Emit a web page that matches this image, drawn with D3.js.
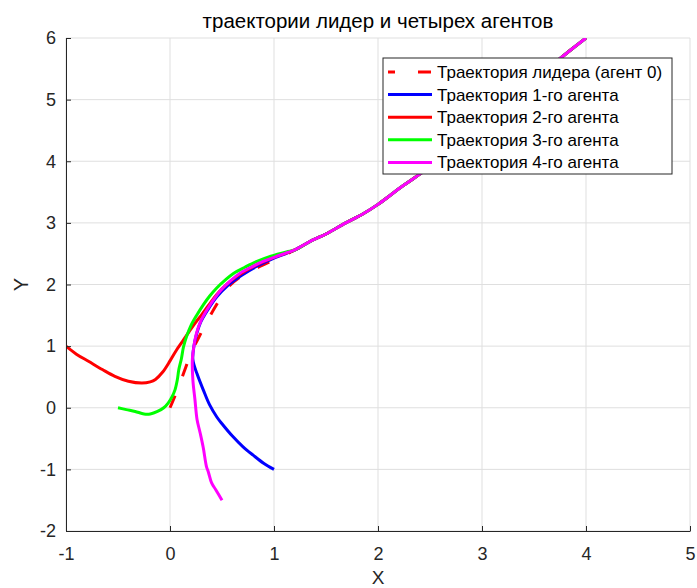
<!DOCTYPE html>
<html>
<head>
<meta charset="utf-8">
<script src="https://cdn.jsdelivr.net/npm/d3@7"></script>
<style>
body { margin:0; background:#fff; }
text { font-family: "Liberation Sans", Arial, sans-serif; }
</style>
</head>
<body>
<div id="chart"></div>
<script>
/* data */
var xTicks = [-1, 0, 1, 2, 3, 4, 5];
var yTicks = [-2, -1, 0, 1, 2, 3, 4, 5, 6];
var labels = ["Траектория лидера (агент 0)", "Траектория 1-го агента", "Траектория 2-го агента", "Траектория 3-го агента", "Траектория 4-го агента"];
var colors = ["#ff0000", "#0000ff", "#ff0000", "#00ff00", "#ff00ff"];

// common part where everybody follows the leader
var tailX = [1.2, 1.37, 1.5, 1.69, 1.85, 2.0, 2.23, 2.46, 2.75, 3.0, 3.25, 3.5, 3.76, 4.0];
var tailY = [2.56, 2.72, 2.82, 3.0, 3.14, 3.3, 3.59, 3.86, 4.23, 4.58, 4.94, 5.3, 5.68, 6.0];

var leaderX = [0, 0.05, 0.1, 0.15, 0.2, 0.27, 0.35, 0.44, 0.55, 0.7, 0.85, 1.0];
var leaderY = [0, 0.2, 0.42, 0.65, 0.88, 1.12, 1.38, 1.65, 1.94, 2.15, 2.28, 2.4];

var agent1X = [1.0, 0.9, 0.8, 0.7, 0.6, 0.5, 0.45, 0.38, 0.32, 0.26, 0.22, 0.23, 0.25, 0.29, 0.36, 0.45, 0.56, 0.69, 0.84, 1.0];
var agent1Y = [-1.0, -0.9, -0.77, -0.63, -0.46, -0.26, -0.15, 0.05, 0.29, 0.55, 0.78, 1.0, 1.16, 1.37, 1.58, 1.8, 1.99, 2.15, 2.3, 2.43];

var agent2X = [-1.0, -0.9, -0.78, -0.65, -0.53, -0.4, -0.27, -0.19, -0.14, -0.07, 0.0, 0.06, 0.13, 0.19, 0.24, 0.3, 0.37, 0.45, 0.55, 0.65, 0.8, 1.0];
var agent2Y = [1.0, 0.87, 0.75, 0.62, 0.51, 0.43, 0.4, 0.42, 0.46, 0.58, 0.76, 0.93, 1.1, 1.25, 1.37, 1.5, 1.66, 1.84, 2.01, 2.14, 2.29, 2.44];

var agent3X = [-0.5, -0.42, -0.335, -0.25, -0.19, -0.12, -0.06, -0.016, 0.02, 0.048, 0.07, 0.085, 0.11, 0.13, 0.16, 0.2, 0.26, 0.32, 0.38, 0.447, 0.53, 0.61, 0.72, 0.83, 0.97, 1.12];
var agent3Y = [0.0, -0.03, -0.06, -0.1, -0.1, -0.06, 0.0, 0.08, 0.18, 0.29, 0.45, 0.62, 0.8, 0.99, 1.16, 1.33, 1.51, 1.67, 1.81, 1.94, 2.07, 2.18, 2.28, 2.37, 2.46, 2.53];

var agent4X = [0.5, 0.44, 0.4, 0.37, 0.35, 0.32, 0.29, 0.26, 0.24, 0.22, 0.215, 0.23, 0.255, 0.3, 0.367, 0.43, 0.49, 0.58, 0.67, 0.78, 0.89, 1.0, 1.13];
var agent4Y = [-1.5, -1.33, -1.22, -1.05, -0.95, -0.65, -0.41, -0.19, 0.13, 0.45, 0.78, 1.0, 1.21, 1.42, 1.62, 1.78, 1.91, 2.06, 2.18, 2.28, 2.37, 2.44, 2.52];

var width = 697, height = 588;
var margin = {left:66, right:7, top:38, bottom:57};

var svg = d3.select("#chart").append("svg")
	.attr("width", width).attr("height", height);

var x = d3.scaleLinear().domain([-1, 5]).range([margin.left, width - margin.right]);
var y = d3.scaleLinear().domain([-2, 6]).range([height - margin.bottom, margin.top]);

/* grid */
var grid = svg.append("g").attr("class", "grid");
grid.selectAll("line.gx").data(xTicks).enter().append("line")
	.attr("x1", function(d){ return x(d); }).attr("x2", function(d){ return x(d); })
	.attr("y1", y(-2)).attr("y2", y(6))
	.attr("stroke", "#dfdfdf").attr("stroke-width", 1);
grid.selectAll("line.gy").data(yTicks).enter().append("line")
	.attr("y1", function(d){ return y(d); }).attr("y2", function(d){ return y(d); })
	.attr("x1", x(-1)).attr("x2", x(5))
	.attr("stroke", "#dfdfdf").attr("stroke-width", 1);

/* curves */
svg.append("clipPath").attr("id", "clip").append("rect")
	.attr("x", x(-1)).attr("y", y(6)).attr("width", x(5) - x(-1)).attr("height", y(-2) - y(6));

function pts(xs, ys, tail) {
	var p = xs.map(function(v, i){ return [v, ys[i]]; });
	if (tail) tailX.forEach(function(v, i){ p.push([v, tailY[i]]); });
	return p;
}
var series = [
	pts(leaderX, leaderY, true),
	pts(agent1X, agent1Y, true),
	pts(agent2X, agent2Y, true),
	pts(agent3X, agent3Y, true),
	pts(agent4X, agent4Y, true)
];

var line = d3.line()
	.x(function(d){ return x(d[0]); })
	.y(function(d){ return y(d[1]); })
	.curve(d3.curveCatmullRom.alpha(0.5));

svg.append("g").attr("clip-path", "url(#clip)")
	.selectAll("path").data(series).enter().append("path")
	.attr("d", line)
	.attr("fill", "none")
	.attr("stroke", function(d, i){ return colors[i]; })
	.attr("stroke-width", 3)
	.attr("stroke-dasharray", function(d, i){ return i == 0 ? "13,21" : null; });

/* axes (MATLAB style, ticks inside, no box) */
var fmt = function(d){ return String(d); };  // plain hyphen minus like the original
var xAxis = d3.axisBottom(x).tickValues(xTicks).tickFormat(fmt).tickSizeInner(-5).tickSizeOuter(0).tickPadding(16);
var yAxis = d3.axisLeft(y).tickValues(yTicks).tickFormat(fmt).tickSizeInner(-5).tickSizeOuter(0).tickPadding(10);

var gx = svg.append("g").attr("transform", "translate(0," + y(-2) + ")").call(xAxis);
var gy = svg.append("g").attr("transform", "translate(" + x(-1) + ",0)").call(yAxis);
[gx, gy].forEach(function(g){
	g.select(".domain").attr("stroke", "#262626");
	g.selectAll(".tick line").attr("stroke", "#262626");
	g.selectAll(".tick text").attr("fill", "#262626").style("font-size", "18px")
		.style("font-family", "'Liberation Sans', Arial, sans-serif");
});

svg.append("text").attr("x", x(2)).attr("y", 28)
	.attr("text-anchor", "middle").attr("fill", "#000").style("font-size", "20.5px")
	.text("траектории лидер и четырех агентов");
svg.append("text").attr("x", x(2)).attr("y", 584)
	.attr("text-anchor", "middle").attr("fill", "#262626").style("font-size", "19px")
	.text("X");
svg.append("text").attr("transform", "translate(28," + y(2) + ") rotate(-90)")
	.attr("text-anchor", "middle").attr("fill", "#262626").style("font-size", "20px")
	.text("Y");

/* legend */
var lg = svg.append("g").attr("transform", "translate(383,58)");
lg.append("rect").attr("width", 289).attr("height", 116)
	.attr("fill", "#fff").attr("stroke", "#262626").attr("stroke-width", 1);
var item = lg.selectAll("g.item").data(labels).enter().append("g")
	.attr("transform", function(d, i){ return "translate(0," + (14 + i * 22.6) + ")"; });
item.append("line").attr("x1", 5).attr("x2", 49)
	.attr("stroke", function(d, i){ return colors[i]; }).attr("stroke-width", 3)
	.attr("stroke-dasharray", function(d, i){ return i == 0 ? "13,23" : null; })
	.attr("stroke-dashoffset", function(d, i){ return i == 0 ? 6 : null; });
item.append("text").attr("x", 54).attr("dy", "0.35em")
	.attr("fill", "#000").style("font-size", "17px").text(function(d){ return d; });
</script>
</body>
</html>
